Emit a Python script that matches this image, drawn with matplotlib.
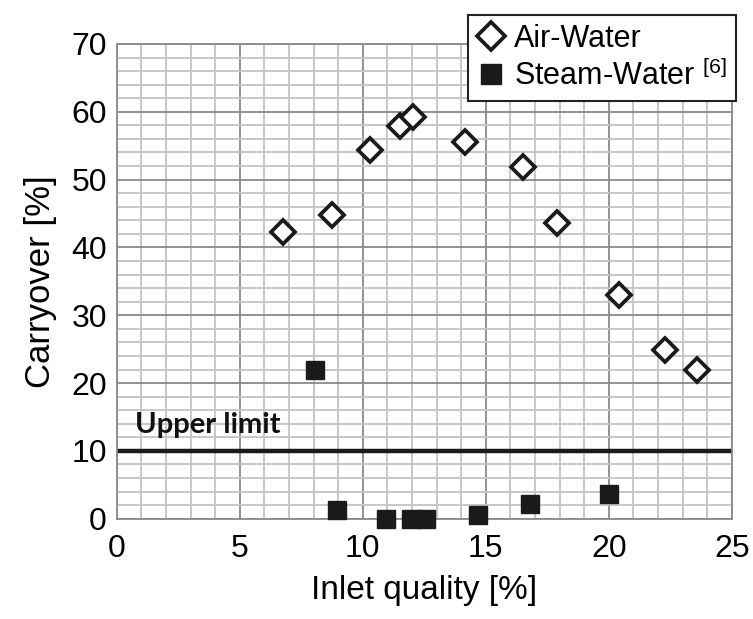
import matplotlib
matplotlib.use("Agg")
import matplotlib.pyplot as plt
from matplotlib.ticker import MultipleLocator

# Air-Water data
air_x = [6.75, 8.75, 10.3, 11.5, 12.05, 14.15, 16.5, 17.9, 20.4, 22.3, 23.6]
air_y = [42.3, 44.8, 54.3, 57.9, 59.3, 55.6, 51.8, 43.6, 33.0, 24.9, 22.0]

# Steam-Water data [6]
steam_x = [8.05, 8.95, 10.95, 11.95, 12.55, 14.7, 16.8, 20.0]
steam_y = [22.0, 1.3, 0.0, 0.0, 0.0, 0.5, 2.2, 3.7]

upper_limit = 10

plt.rcParams['font.family'] = ['Liberation Sans', 'DejaVu Sans']
plt.rcParams['mathtext.default'] = 'regular'

fig = plt.figure(figsize=(7.53, 6.19), dpi=100)
ax = fig.add_axes([0.155, 0.162, 0.817, 0.767])

ax.set_xlim(0, 25)
ax.set_ylim(0, 70)
ax.xaxis.set_major_locator(MultipleLocator(5))
ax.xaxis.set_minor_locator(MultipleLocator(1))
ax.yaxis.set_major_locator(MultipleLocator(10))
ax.yaxis.set_minor_locator(MultipleLocator(2))
ax.grid(which='minor', color='#c4c4c4', lw=1.3, zorder=0)
ax.grid(which='major', color='#8a8a8a', lw=1.3, zorder=0)
ax.set_axisbelow(True)
ax.tick_params(which='both', length=0, labelsize=23)
ax.tick_params(axis='x', pad=11)
ax.tick_params(axis='y', pad=7)
for s in ax.spines.values():
    s.set_color('#8a8a8a')
    s.set_linewidth(1.3)

ax.axhline(upper_limit, color='#1a1a1a', lw=3.2, zorder=2)
ax.text(0.75, 12.7, 'Upper limit', fontsize=21, fontweight='bold',
        family=['Lato', 'DejaVu Sans'], color='#111111', va='baseline')

ax.plot(air_x, air_y, ls='none', marker='D', ms=12.5, mfc='white', mec='#1a1a1a',
        mew=2.7, label='Air-Water', zorder=3, clip_on=False)
ax.plot(steam_x, steam_y, ls='none', marker='s', ms=13, mfc='#1a1a1a', mec='#1a1a1a',
        label='Steam-Water $^{[6]}$', zorder=3, clip_on=False)

ax.set_xlabel('Inlet quality [%]', fontsize=24, labelpad=8)
ax.set_ylabel('Carryover [%]', fontsize=25, labelpad=10)

leg = ax.legend(loc='upper right', bbox_to_anchor=(0.977, 0.976), bbox_transform=fig.transFigure,
                fontsize=22, frameon=True, fancybox=False, handletextpad=0.3,
                handlelength=0.9, borderpad=0.3, labelspacing=0.2, borderaxespad=0,
                markerscale=1.15)
leg.get_frame().set_edgecolor('#222222')
leg.get_frame().set_linewidth(1.5)
leg.get_frame().set_alpha(1)
leg.set_zorder(5)

fig.savefig('out.png', dpi=100)
